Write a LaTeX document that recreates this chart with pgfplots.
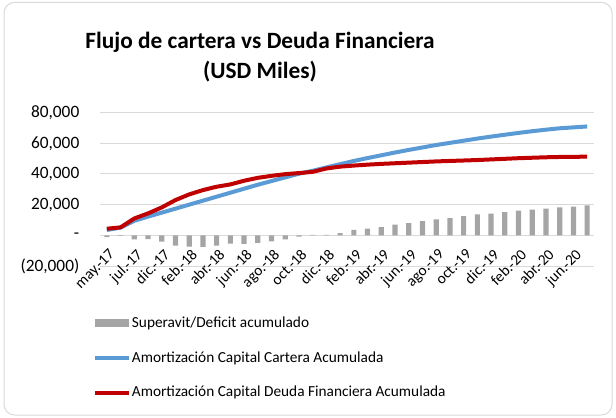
\documentclass[border=0pt]{standalone}
\usepackage{pgfplots}
\pgfplotsset{compat=1.18}
\usepackage{pgfplotstable}
\usepackage{fontspec}
\setmainfont{Carlito}
\definecolor{barg}{HTML}{A5A5A5}
\definecolor{cblue}{HTML}{5B9BD5}
\definecolor{cred}{HTML}{C00000}
\definecolor{gridg}{HTML}{D9D9D9}

% i = month index, sup = superavit/deficit, cart = cartera, deuda = deuda financiera
\pgfplotstableread{
i  sup    cart   deuda
0  -1200  3500   4300
1  -300   5000   5200
2  -2600  9500   11000
3  -2400  12200  14300
4  -4100  14800  18200
5  -6700  17400  23000
6  -7400  20000  26700
7  -7600  22600  29500
8  -6700  25200  31700
9  -5400  27800  33200
10 -5600  30400  35600
11 -5000  33000  37500
12 -3900  35400  38800
13 -2600  37800  39900
14 -900   40200  40600
15 300    42100  41400
16 300    44300  43600
17 1500   46400  44800
18 3500   48500  45500
19 4300   50400  46100
20 5400   52200  46600
21 7000   54000  47000
22 8000   55700  47400
23 9300   57300  47800
24 10400  58900  48200
25 11300  60300  48500
26 12600  61700  48800
27 13700  63100  49100
28 14100  64400  49500
29 15200  65600  49900
30 16100  66800  50300
31 16700  67900  50600
32 17400  68900  50900
33 18300  69800  51100
34 18700  70400  51200
35 19600  71000  51300
}\flujo

\begin{document}
\begin{tikzpicture}
\useasboundingbox (0,0) rectangle (462pt,312.75pt);
\draw[gridg, line width=0.75pt, rounded corners=8pt] (3pt,1.5pt) rectangle (459pt,311pt);
\node[align=center, font=\fontsize{17.5}{22.5}\selectfont\bfseries] at (195pt,270pt)
  {Flujo de cartera vs Deuda Financiera\\(USD Miles)};
\begin{axis}[
  at={(75pt,113.25pt)}, anchor=south west,
  scale only axis, width=370.5pt, height=115pt,
  xmin=-0.5, xmax=35.5, ymin=-20000, ymax=80000,
  axis x line*=middle, axis y line*=left,
  y axis line style={draw=none},
  x axis line style={draw=gridg, line width=0.75pt},
  major tick length=0pt,
  scaled y ticks=false,
  ytick={-20000,0,20000,40000,60000,80000},
  yticklabels={(20{,}000),-,{20,000},{40,000},{60,000},{80,000}},
  xtick={0,2,...,34},
  xticklabels={may.-17,jul.-17,dic.-17,feb.-18,abr.-18,jun.-18,ago.-18,oct.-18,dic.-18,
    feb.-19,abr.-19,jun.-19,ago.-19,oct.-19,dic.-19,feb.-20,abr.-20,jun.-20},
  xticklabel shift=8pt,
  x tick label style={xshift=1pt, rotate=45, anchor=north east,
    font=\fontsize{11.5}{13}\selectfont, inner sep=1pt},
  y tick label style={font=\fontsize{13}{15}\selectfont, xshift=-12pt},
  ymajorgrids,
  grid style={draw=gridg, line width=0.75pt},
  legend style={at={(-0.0142,-0.60)}, anchor=west, draw=none, fill=none,
    inner sep=0pt, row sep=14.5pt, font=\fontsize{11.5}{13}\selectfont,
    nodes={inner sep=1pt}},
  legend cell align=left,
]
\addplot[ybar, bar width=3.9pt, fill=barg, draw=none,
  legend image code/.code={\fill[barg] (0pt,-3pt) rectangle (25pt,3pt);}]
  table[x=i, y=sup] {\flujo};
\addlegendentry{Superavit/Deficit acumulado}
\addplot[cblue, line width=3pt, line join=round, no marks,
  legend image code/.code={\draw[cblue, line width=3pt] (0pt,0pt) -- (25pt,0pt);}]
  table[x=i, y=cart] {\flujo};
\addlegendentry{Amortización Capital Cartera Acumulada}
\addplot[cred, line width=3pt, line join=round, no marks,
  legend image code/.code={\draw[cred, line width=3pt] (0pt,0pt) -- (25pt,0pt);}]
  table[x=i, y=deuda] {\flujo};
\addlegendentry{Amortización Capital Deuda Financiera Acumulada}
\end{axis}
\end{tikzpicture}
\end{document}
